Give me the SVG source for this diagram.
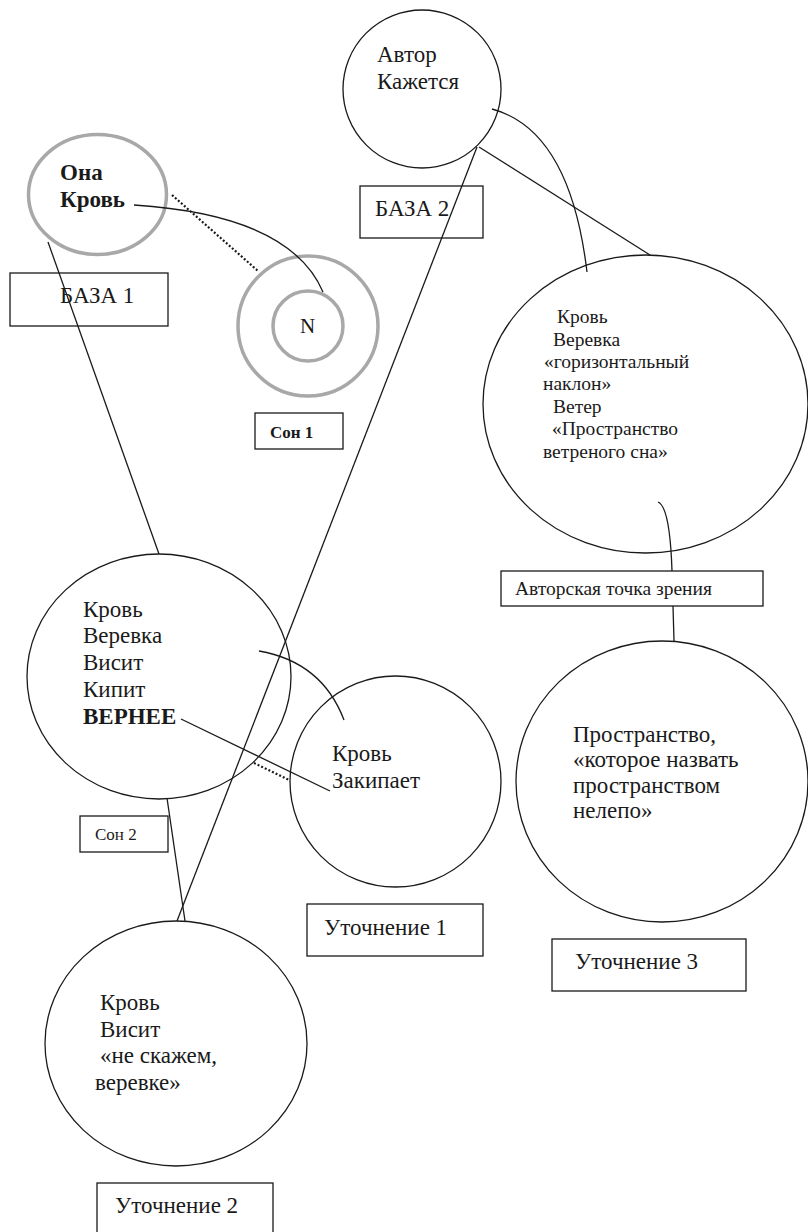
<svg xmlns="http://www.w3.org/2000/svg" width="808" height="1232" viewBox="0 0 808 1232">
<style>
  .n { fill: #fff; stroke: #1a1a1a; stroke-width: 1.3; }
  .g { fill: none; stroke: #a8a8a8; stroke-width: 3.5; }
  .box { fill: #fff; stroke: #1a1a1a; stroke-width: 1.3; }
  .c { fill: none; stroke: #1a1a1a; stroke-width: 1.3; }
  .d { fill: none; stroke: #1a1a1a; stroke-width: 2.2; stroke-dasharray: 2 2; }
  text { font-family: "Liberation Serif", "DejaVu Serif", serif; fill: #1a1a1a; }
  .t23 { font-size: 23px; }
  .t19 { font-size: 19.5px; }
  .b { font-weight: bold; }
</style>

<rect width="808" height="1232" fill="#fff"/>

<g id="node-ona">
  <ellipse class="g" cx="97.5" cy="194.5" rx="69" ry="60"/>
  <text class="t23 b" x="60" y="180">Она</text>
  <text class="t23 b" x="60" y="207">Кровь</text>
</g>
<g id="node-avtor">
  <circle class="n" cx="422" cy="89" r="79"/>
  <text class="t23" x="377" y="62">Автор</text>
  <text class="t23" x="377" y="89">Кажется</text>
</g>
<g id="node-son1-circle">
  <circle class="g" cx="308" cy="326" r="70"/>
  <circle class="g" cx="308" cy="326" r="35"/>
  <text x="300" y="333" style="font-size:21px">N</text>
</g>
<g id="node-base2">
  <ellipse class="n" cx="645.5" cy="404" rx="162.5" ry="149"/>
  <text class="t19" x="557" y="323">Кровь</text>
  <text class="t19" x="553" y="346">Веревка</text>
  <text class="t19" x="544" y="368">«горизонтальный</text>
  <text class="t19" x="543" y="390">наклон»</text>
  <text class="t19" x="553" y="413">Ветер</text>
  <text class="t19" x="552" y="435">«Пространство</text>
  <text class="t19" x="543" y="458">ветреного сна»</text>
</g>
<g id="node-krov-main">
  <ellipse class="n" cx="159" cy="676.5" rx="132" ry="122.5"/>
  <text class="t23" x="83" y="617">Кровь</text>
  <text class="t23" x="83" y="643">Веревка</text>
  <text class="t23" x="83" y="670">Висит</text>
  <text class="t23" x="83" y="697">Кипит</text>
  <text class="t23 b" x="83" y="724">ВЕРНЕЕ</text>
</g>
<g id="node-zakipaet">
  <circle class="n" cx="395.5" cy="781.5" r="105.5"/>
  <text class="t23" x="332" y="761">Кровь</text>
  <text class="t23" x="332" y="788">Закипает</text>
</g>
<g id="node-prostranstvo">
  <ellipse class="n" cx="662" cy="781.5" rx="146" ry="140.5"/>
  <text class="t23" x="573" y="742">Пространство,</text>
  <text class="t23" x="573" y="767">«которое назвать</text>
  <text class="t23" x="573" y="793">пространством</text>
  <text class="t23" x="573" y="818">нелепо»</text>
</g>
<g id="node-visit">
  <ellipse class="n" cx="176" cy="1043.5" rx="131" ry="122.5"/>
  <text class="t23" x="100" y="1010">Кровь</text>
  <text class="t23" x="100" y="1037">Висит</text>
  <text class="t23" x="100" y="1063">«не скажем,</text>
  <text class="t23" x="95" y="1090">веревке»</text>
</g>

<g id="connectors">
  <path class="c" d="M134,205 Q290,215 323,292"/>
  <path class="d" d="M172,195 L258,271"/>
  <path class="c" d="M48,242 L159,554"/>
  <path class="c" d="M492,109 Q570,130 587,272"/>
  <path class="c" d="M479,147 L650,255"/>
  <path class="c" d="M477,147 L177,921"/>
  <path class="c" d="M658,502 C668,506 671,540 672,571 L674,641"/>
  <path class="c" d="M259,651 Q322,662 344,720"/>
  <path class="c" d="M181,719 L330,791"/>
  <path class="d" d="M254,763 L289,780"/>
  <path class="c" d="M167,798 L185,921"/>
</g>

<g id="label-base1">
  <rect class="box" x="10" y="273" width="158" height="53" style="fill:none"/>
  <text class="t23" x="60" y="303">БАЗА 1</text>
</g>
<g id="label-son1">
  <rect class="box" x="255" y="413" width="88" height="36"/>
  <text class="b" x="270" y="438" style="font-size:17px">Сон 1</text>
</g>
<g id="label-base2">
  <rect class="box" x="360" y="186" width="123" height="52" style="fill:none"/>
  <text class="t23" x="375" y="216">БАЗА 2</text>
</g>
<g id="label-author-view">
  <rect class="box" x="501" y="571" width="262" height="35"/>
  <text class="t19" x="515" y="595">Авторская точка зрения</text>
</g>
<g id="label-son2">
  <rect class="box" x="80" y="816" width="88" height="36"/>
  <text x="95" y="840" style="font-size:17px">Сон 2</text>
</g>
<g id="label-ut1">
  <rect class="box" x="307" y="904" width="176" height="52"/>
  <text class="t23" x="324" y="935">Уточнение 1</text>
</g>
<g id="label-ut3">
  <rect class="box" x="552" y="939" width="194" height="52"/>
  <text class="t23" x="575" y="969">Уточнение 3</text>
</g>
<g id="label-ut2">
  <rect class="box" x="97" y="1183" width="176" height="60"/>
  <text class="t23" x="115" y="1213">Уточнение 2</text>
</g>
</svg>
